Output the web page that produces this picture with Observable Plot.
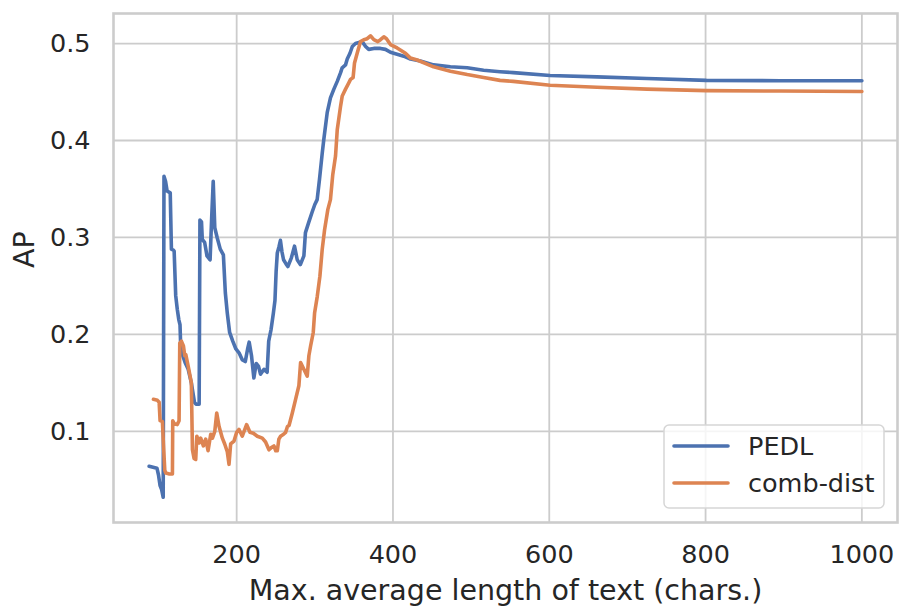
<!DOCTYPE html>
<html>
<head>
<meta charset="utf-8">
<script src="https://cdn.jsdelivr.net/npm/d3@7"></script>
<script src="https://cdn.jsdelivr.net/npm/@observablehq/plot@0.6"></script>
<style>
  html, body { margin: 0; padding: 0; background: #fff; }
  #chart { width: 900px; height: 610px; }
</style>
</head>
<body>
<div id="chart"></div>
<script>
const seriesNames = ["PEDL", "comb-dist"];
const seriesColors = ["#4c72b0", "#dd8452"];
const xTicks = [200, 400, 600, 800, 1000];
const yTicks = [0.1, 0.2, 0.3, 0.4, 0.5];
const xLabel = "Max. average length of text (chars.)";
const yLabel = "AP";

const pedlX = [88, 93, 98, 100, 102, 104, 106, 107, 109, 111, 115, 116.5, 119, 120, 122, 124, 126, 127.5, 128.5, 131, 134, 138, 142, 146, 148, 152, 153, 155, 156, 159, 162, 166, 168, 170, 172, 175, 179, 183, 185.5, 188, 191, 195, 199, 203, 207, 211, 214, 216, 219, 222, 225, 228, 230.5, 235, 239, 241, 244, 247, 249, 250.5, 252, 254, 256, 258, 260, 263, 265.5, 270, 274, 277.5, 281.5, 286, 288, 292, 296.5, 300, 303, 306, 309.5, 311.5, 315.9, 320, 324.4, 328.7, 333, 335, 339.3, 341.5, 345, 348, 352, 356.4, 360.6, 365, 369, 375.5, 384, 390.4, 396.8, 405.3, 413.8, 422.4, 435, 452, 473.5, 495, 516, 537, 554, 601, 661, 725, 801, 895, 1000];
const pedlY = [0.064, 0.063, 0.062, 0.055, 0.044, 0.040, 0.032, 0.363, 0.358, 0.348, 0.346, 0.288, 0.287, 0.286, 0.240, 0.226, 0.215, 0.210, 0.185, 0.178, 0.171, 0.164, 0.150, 0.130, 0.128, 0.128, 0.318, 0.316, 0.298, 0.295, 0.281, 0.277, 0.320, 0.358, 0.310, 0.300, 0.288, 0.282, 0.243, 0.222, 0.202, 0.193, 0.185, 0.181, 0.174, 0.172, 0.185, 0.192, 0.178, 0.155, 0.170, 0.167, 0.159, 0.164, 0.161, 0.193, 0.205, 0.222, 0.235, 0.265, 0.284, 0.290, 0.297, 0.285, 0.277, 0.273, 0.270, 0.279, 0.291, 0.277, 0.272, 0.281, 0.305, 0.315, 0.326, 0.334, 0.339, 0.360, 0.387, 0.401, 0.429, 0.444, 0.453, 0.461, 0.470, 0.475, 0.478, 0.484, 0.490, 0.497, 0.500, 0.501, 0.502, 0.497, 0.494, 0.495, 0.495, 0.494, 0.491, 0.489, 0.487, 0.484, 0.482, 0.478, 0.476, 0.475, 0.4725, 0.471, 0.470, 0.467, 0.4656, 0.464, 0.462, 0.4617, 0.4617];

const combX = [93.5, 98.6, 100.8, 102, 105, 106.3, 108, 109.3, 114, 117.8, 118.2, 120, 124, 126.3, 127.2, 129.3, 131.9, 133.6, 135, 138, 140.4, 142, 143.4, 145.5, 147.6, 149, 152, 154, 157.4, 160.4, 163.4, 166.8, 169, 172, 174.5, 177.5, 181.7, 184.7, 188, 190.2, 192.3, 196.6, 200, 203, 207.2, 212.7, 217, 221.3, 226.4, 232.8, 237, 241.3, 244, 247.7, 250, 252, 254, 256.2, 260, 262.6, 265, 267, 271.2, 275.4, 279.6, 281.8, 286, 290.3, 292.4, 294.6, 298, 299.7, 303.1, 306.5, 309.5, 312.5, 316.7, 320, 323, 326.5, 328.7, 332.9, 335.1, 339.3, 343.5, 345.7, 349, 350.8, 354.2, 358.5, 362.7, 367, 371.2, 375.5, 380.6, 384, 388.3, 391.7, 396.8, 405.3, 416, 422.4, 431, 452, 473.5, 495, 516, 537, 554, 601, 661, 725, 801, 895, 1000];
const combY = [0.133, 0.132, 0.130, 0.111, 0.110, 0.087, 0.060, 0.057, 0.056, 0.056, 0.111, 0.108, 0.107, 0.111, 0.191, 0.193, 0.188, 0.178, 0.179, 0.167, 0.157, 0.150, 0.081, 0.072, 0.071, 0.095, 0.088, 0.093, 0.085, 0.092, 0.080, 0.097, 0.093, 0.100, 0.119, 0.105, 0.093, 0.087, 0.079, 0.066, 0.087, 0.090, 0.099, 0.102, 0.095, 0.107, 0.099, 0.098, 0.095, 0.093, 0.089, 0.081, 0.083, 0.085, 0.080, 0.080, 0.092, 0.095, 0.097, 0.099, 0.105, 0.106, 0.119, 0.133, 0.147, 0.171, 0.164, 0.157, 0.178, 0.188, 0.202, 0.222, 0.239, 0.260, 0.288, 0.308, 0.329, 0.339, 0.365, 0.384, 0.411, 0.435, 0.446, 0.453, 0.4595, 0.463, 0.465, 0.480, 0.490, 0.502, 0.504, 0.505, 0.508, 0.504, 0.502, 0.504, 0.507, 0.505, 0.499, 0.4955, 0.490, 0.485, 0.483, 0.476, 0.4715, 0.468, 0.465, 0.462, 0.461, 0.457, 0.455, 0.453, 0.4515, 0.451, 0.4505];

const pedl = pedlX.map((x, i) => ({x, y: pedlY[i]}));
const comb = combX.map((x, i) => ({x, y: combY[i]}));

const W = 900, H = 610;
const M = {top: 13, right: 3, bottom: 88, left: 113};
const textColor = "#262626";
const gridColor = "#cccccc";
const lineW = 3.6;

const chart = Plot.plot({
  width: W,
  height: H,
  marginTop: M.top,
  marginRight: M.right,
  marginBottom: M.bottom,
  marginLeft: M.left,
  style: {fontFamily: "'DejaVu Sans', sans-serif", color: textColor, background: "#fff"},
  x: {domain: [42.4, 1045.6]},
  y: {domain: [0.006, 0.531]},
  marks: [
    Plot.gridX(xTicks, {stroke: gridColor, strokeOpacity: 1, strokeWidth: 1.8}),
    Plot.gridY(yTicks, {stroke: gridColor, strokeOpacity: 1, strokeWidth: 1.8}),
    Plot.frame({stroke: gridColor, strokeWidth: 2.6}),
    Plot.axisX(xTicks, {tickSize: 0, tickPadding: 22, fontSize: 25.5, label: null, tickFormat: d3.format("d"), fill: textColor}),
    Plot.axisY(yTicks, {tickSize: 0, tickPadding: 23, fontSize: 25.5, label: null, tickFormat: d => d.toFixed(1), fill: textColor}),
    Plot.line(pedl, {x: "x", y: "y", stroke: seriesColors[0], strokeWidth: lineW, strokeLinejoin: "round", strokeLinecap: "round"}),
    Plot.line(comb, {x: "x", y: "y", stroke: seriesColors[1], strokeWidth: lineW, strokeLinejoin: "round", strokeLinecap: "round"}),
    Plot.text([xLabel], {frameAnchor: "bottom", dy: 68, lineAnchor: "middle", fontSize: 28.5, fill: textColor}),
    Plot.text([yLabel], {frameAnchor: "left", dx: -89, rotate: -90, lineAnchor: "middle", fontSize: 28.5, fill: textColor})
  ]
});

document.getElementById("chart").appendChild(chart);

// Legend inside the plot, lower right
const svg = d3.select(chart);
const frameRight = W - M.right, frameBottom = H - M.bottom;
const lw = 220, lh = 83;
const lx = frameRight - 13 - lw, ly = frameBottom - 14 - lh;
const lg = svg.append("g").attr("font-family", "'DejaVu Sans', sans-serif").attr("text-anchor", "start");
lg.append("rect").attr("x", lx).attr("y", ly).attr("width", lw).attr("height", lh)
  .attr("rx", 5).attr("fill", "#fff").attr("fill-opacity", 0.8)
  .attr("stroke", "#d6d6d6").attr("stroke-width", 1.5);
seriesNames.forEach((name, i) => {
  const cy = ly + 21 + i * 37;
  lg.append("line").attr("x1", lx + 10).attr("x2", lx + 64).attr("y1", cy).attr("y2", cy)
    .attr("stroke", seriesColors[i]).attr("stroke-width", lineW).attr("stroke-linecap", "round");
  lg.append("text").attr("x", lx + 84).attr("y", cy).attr("dy", "0.35em")
    .attr("text-anchor", "start").attr("font-size", 25.5).attr("fill", textColor).text(name);
});
</script>
</body>
</html>
